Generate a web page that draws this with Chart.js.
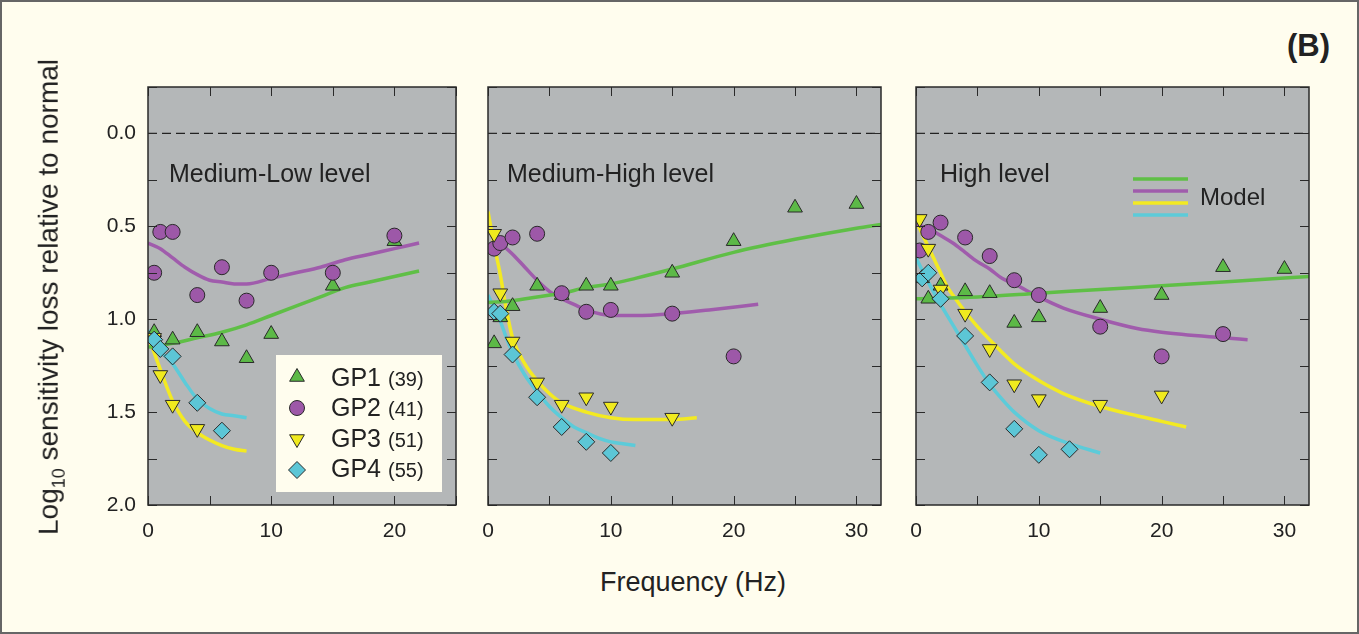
<!DOCTYPE html>
<html lang="en">
<head>
  <meta charset="UTF-8">
  <title>Sensitivity loss by frequency</title>
  <script src="https://cdn.jsdelivr.net/npm/chart.js"></script>
  <style>
    body { margin: 0; background: #fffdee; font-family: "Liberation Sans", Arial, sans-serif; color: #222; }
    #frame { position: absolute; left: 0; top: 0; width: 1359px; height: 634px; box-sizing: border-box; border: 2px solid #666; }
    .panel { position: absolute; top: 80px; height: 470px; }
    .txt { position: absolute; white-space: nowrap; line-height: 1; }
    .title { font-size: 25px; top: 161px; }
    .lg { font-size: 25px; left: 331px; }
    .lg small { font-size: 20px; }
  </style>
</head>
<body>
  <div id="frame"></div>

  <div class="panel" style="left:60px;width:400px"><canvas id="lowChart"></canvas></div>
  <div class="panel" style="left:470px;width:420px"><canvas id="midChart"></canvas></div>
  <div class="panel" style="left:898px;width:421px"><canvas id="highChart"></canvas></div>

  <div class="txt title" style="left:169px">Medium-Low level</div>
  <div class="txt title" style="left:507px">Medium-High level</div>
  <div class="txt title" style="left:940px">High level</div>

  <div class="txt lg" style="top:365px">GP1 <small>(39)</small></div>
  <div class="txt lg" style="top:395px">GP2 <small>(41)</small></div>
  <div class="txt lg" style="top:426px">GP3 <small>(51)</small></div>
  <div class="txt lg" style="top:456px">GP4 <small>(55)</small></div>

  <div class="txt" style="left:1200px;top:185px;font-size:24px">Model</div>
  <div class="txt" style="left:1287px;top:30px;font-size:31px;font-weight:bold">(B)</div>
  <div class="txt" style="left:693px;top:569px;font-size:27px;transform:translateX(-50%)">Frequency (Hz)</div>
  <div class="txt" style="left:51px;top:297px;font-size:28px;transform:translate(-50%,-50%) rotate(-90deg)">Log<sub style="font-size:18px">10</sub> sensitivity loss relative to normal</div>

  <script>
    // measured points, [frequency Hz, log10 loss]
    const mlGp1 = [[0.5,1.07],[2,1.11],[4,1.07],[6,1.12],[8,1.21],[10,1.08],[15,0.82],[20,0.58]];
    const mlGp2 = [[0.5,0.75],[1,0.53],[2,0.53],[4,0.87],[6,0.72],[8,0.90],[10,0.75],[15,0.75],[20,0.55]];
    const mlGp3 = [[0.5,1.10],[1,1.30],[2,1.46],[4,1.59]];
    const mlGp4 = [[0.5,1.11],[1,1.16],[2,1.20],[4,1.45],[6,1.60]];

    const mhGp1 = [[0.5,1.13],[1,0.99],[2,0.93],[4,0.82],[6,0.87],[8,0.82],[10,0.82],[15,0.75],[20,0.58],[25,0.40],[30,0.38]];
    const mhGp2 = [[0.5,0.62],[1,0.59],[2,0.56],[4,0.54],[6,0.86],[8,0.96],[10,0.95],[15,0.97],[20,1.20]];
    const mhGp3 = [[0.5,0.54],[1,0.86],[2,1.12],[4,1.34],[6,1.46],[8,1.42],[10,1.47],[15,1.53]];
    const mhGp4 = [[0.5,0.96],[1,0.97],[2,1.19],[4,1.42],[6,1.58],[8,1.66],[10,1.72]];

    const hiGp1 = [[0.5,0.78],[1,0.89],[2,0.82],[4,0.85],[6,0.86],[8,1.02],[10,0.99],[15,0.94],[20,0.87],[25,0.72],[30,0.73]];
    const hiGp2 = [[0.3,0.63],[1,0.53],[2,0.48],[4,0.56],[6,0.66],[8,0.79],[10,0.87],[15,1.04],[20,1.20],[25,1.08]];
    const hiGp3 = [[0.3,0.46],[1,0.62],[2,0.84],[4,0.97],[6,1.16],[8,1.35],[10,1.43],[15,1.46],[20,1.41]];
    const hiGp4 = [[0.5,0.78],[1,0.75],[2,0.89],[4,1.09],[6,1.34],[8,1.59],[10,1.73],[12.5,1.70]];

    // model curves
    const mlFit1 = [[0,1.15],[2,1.13],[4,1.10],[6,1.07],[8,1.03],[10,0.98],[12,0.93],[14,0.88],[16,0.83],[18,0.80],[20,0.77],[22,0.74]];
    const mlFit2 = [[0,0.59],[1,0.62],[2,0.67],[3,0.72],[4,0.76],[5,0.79],[6,0.80],[7,0.81],[8,0.81],[10,0.78],[12,0.75],[14,0.72],[16,0.68],[18,0.65],[20,0.62],[22,0.59]];
    const mlFit3 = [[0,1.09],[0.5,1.18],[1,1.27],[1.5,1.36],[2,1.44],[3,1.55],[4,1.61],[5,1.65],[6,1.68],[7,1.70],[8,1.71]];
    const mlFit4 = [[0,1.06],[0.5,1.12],[1,1.17],[2,1.24],[3,1.34],[4,1.43],[5,1.48],[6,1.51],[7,1.52],[8,1.53]];

    const mhFit1 = [[0,0.91],[2,0.90],[4,0.88],[6,0.86],[8,0.83],[10,0.81],[12,0.78],[15,0.73],[20,0.64],[25,0.57],[30,0.51],[32,0.49]];
    const mhFit2 = [[1,0.59],[2,0.65],[3,0.72],[4,0.79],[5,0.85],[6,0.89],[7,0.92],[8,0.95],[10,0.98],[12,0.98],[15,0.97],[18,0.95],[22,0.92]];
    const mhFit3 = [[0,0.42],[0.5,0.60],[1,0.76],[1.5,0.95],[2,1.10],[3,1.24],[4,1.33],[5,1.40],[6,1.45],[8,1.50],[10,1.53],[12,1.54],[15,1.54],[17,1.53]];
    const mhFit4 = [[0,0.87],[0.5,0.94],[1,1.01],[1.5,1.10],[2,1.18],[3,1.30],[4,1.39],[5,1.47],[6,1.53],[7,1.58],[8,1.61],[9,1.64],[10,1.66],[11,1.67],[12,1.68]];

    const hiFit1 = [[0,0.89],[5,0.88],[10,0.86],[15,0.84],[20,0.82],[25,0.80],[32,0.77]];
    const hiFit2 = [[0,0.49],[1,0.51],[2,0.55],[3,0.59],[4,0.64],[5,0.69],[6,0.73],[7,0.78],[8,0.81],[10,0.88],[12,0.94],[15,1.00],[18,1.05],[20,1.07],[25,1.10],[27,1.11]];
    const hiFit3 = [[0,0.47],[1,0.61],[2,0.75],[2.5,0.82],[3,0.87],[4,0.96],[5,1.04],[6,1.11],[8,1.24],[10,1.33],[12,1.40],[15,1.47],[18,1.52],[20,1.55],[22,1.58]];
    const hiFit4 = [[0,0.67],[1,0.80],[2,0.92],[3,1.03],[4,1.14],[5,1.25],[6,1.35],[7,1.43],[8,1.50],[10,1.60],[12.5,1.67],[15,1.72]];

    const normalLevel = 0;

    const markColors = ['#5cb947', '#9d58a8', '#f0ea1e', '#5cc6d6'];
    const lineColors = ['#5fbf46', '#a05cac', '#f3ea22', '#5ccbd9'];
    const markStyles = [
      { pointStyle: 'triangle', radius: 8.5, rotation: 0 },
      { pointStyle: 'circle', radius: 7.5, rotation: 0 },
      { pointStyle: 'triangle', radius: 8.5, rotation: 180 },
      { pointStyle: 'rectRot', radius: 8.5, rotation: 0 }
    ];

    const xy = arr => arr.map(p => ({ x: p[0], y: p[1] }));

    // grey plot area, box frame and inward ticks on all four sides
    const panelFrame = {
      id: 'panelFrame',
      beforeDatasetsDraw(chart) {
        const { ctx, chartArea: a } = chart;
        ctx.save();
        ctx.fillStyle = '#b4b7b8';
        ctx.fillRect(a.left, a.top, a.width, a.height);
        ctx.restore();
      },
      afterDatasetsDraw(chart) {
        const { ctx, chartArea: a, scales } = chart;
        ctx.save();
        ctx.strokeStyle = '#2a2a2a';
        ctx.lineWidth = 1;
        ctx.beginPath();
        scales.x.ticks.forEach(t => {
          const px = Math.round(scales.x.getPixelForValue(t.value)) + 0.5;
          ctx.moveTo(px, a.top); ctx.lineTo(px, a.top + 9);
          ctx.moveTo(px, a.bottom); ctx.lineTo(px, a.bottom - 9);
        });
        scales.y.ticks.forEach(t => {
          const py = Math.round(scales.y.getPixelForValue(t.value)) + 0.5;
          ctx.moveTo(a.left, py); ctx.lineTo(a.left + 9, py);
          ctx.moveTo(a.right, py); ctx.lineTo(a.right - 9, py);
        });
        ctx.stroke();
        ctx.lineWidth = 1.5;
        ctx.strokeRect(a.left, a.top, a.width, a.height);
        ctx.restore();
      }
    };

    // symbol key (box + markers), text is html
    const groupKey = {
      id: 'groupKey',
      afterDatasetsDraw(chart) {
        const { ctx, chartArea: a } = chart;
        ctx.save();
        ctx.fillStyle = '#fffdee';
        ctx.fillRect(a.left + 128, a.top + 268, 166, 137);
        const rows = [290, 321, 352, 383];
        rows.forEach((dy, i) => {
          ctx.fillStyle = markColors[i];
          ctx.strokeStyle = '#2a2a2a';
          ctx.lineWidth = 1;
          Chart.helpers.drawPoint(ctx, { ...markStyles[i], borderWidth: 1 }, a.left + 149, a.top + dy);
        });
        ctx.restore();
      }
    };

    // model line key in the high level panel
    const modelKey = {
      id: 'modelKey',
      afterDatasetsDraw(chart) {
        const { ctx, chartArea: a } = chart;
        ctx.save();
        ctx.lineWidth = 3.5;
        [92, 104, 116, 128].forEach((dy, i) => {
          ctx.strokeStyle = lineColors[i];
          ctx.beginPath();
          ctx.moveTo(a.left + 217, a.top + dy);
          ctx.lineTo(a.left + 272, a.top + dy);
          ctx.stroke();
        });
        ctx.restore();
      }
    };

    function makePanel(id, xMax, groups, fits, showY, yWidth, padRight, extra) {
      const datasets = [];
      datasets.push({
        data: [{ x: 0, y: normalLevel }, { x: xMax, y: normalLevel }],
        showLine: true, pointRadius: 0, borderColor: '#222', borderWidth: 1.2,
        borderDash: [9, 5], order: 20
      });
      fits.forEach((f, i) => datasets.push({
        data: xy(f), showLine: true, pointRadius: 0, borderColor: lineColors[i],
        borderWidth: 3.5, cubicInterpolationMode: 'monotone', order: 10 + i
      }));
      groups.forEach((g, i) => datasets.push({
        data: xy(g), showLine: false,
        pointStyle: markStyles[i].pointStyle, pointRadius: markStyles[i].radius,
        pointRotation: markStyles[i].rotation, pointBackgroundColor: markColors[i],
        pointBorderColor: '#2a2a2a', pointBorderWidth: 1, order: 4 - i
      }));

      return new Chart(document.getElementById(id), {
        type: 'scatter',
        data: { datasets },
        options: {
          responsive: true,
          maintainAspectRatio: false,
          animation: false,
          devicePixelRatio: 1,
          layout: { autoPadding: false, padding: { top: 7, right: padRight, left: 0, bottom: 0 } },
          plugins: { legend: { display: false }, tooltip: { enabled: false } },
          scales: {
            x: {
              type: 'linear', min: 0, max: xMax,
              grid: { display: false, drawTicks: false },
              border: { display: false },
              afterFit: s => { s.height = 45; s.paddingLeft = 0; s.paddingRight = 0; },
              ticks: {
                stepSize: 5, includeBounds: false, autoSkip: false, padding: 14,
                color: '#222', font: { family: 'Liberation Sans', size: 21 },
                callback: v => (v % 10 === 0 ? String(v) : '')
              }
            },
            y: {
              type: 'linear', reverse: true, min: -0.25, max: 2.0,
              grid: { display: false, drawTicks: false },
              border: { display: false },
              afterFit: s => { s.width = yWidth; s.paddingTop = 0; s.paddingBottom = 0; },
              ticks: {
                display: showY, stepSize: 0.25, includeBounds: false, autoSkip: false, padding: 12,
                color: '#222', font: { family: 'Liberation Sans', size: 21 },
                callback: v => (v >= 0 && Math.abs(v * 2 - Math.round(v * 2)) < 1e-6 ? v.toFixed(1) : '')
              }
            }
          }
        },
        plugins: [panelFrame].concat(extra)
      });
    }

    makePanel('lowChart', 25, [mlGp1, mlGp2, mlGp3, mlGp4], [mlFit1, mlFit2, mlFit3, mlFit4], true, 88, 4, [groupKey]);
    makePanel('midChart', 32, [mhGp1, mhGp2, mhGp3, mhGp4], [mhFit1, mhFit2, mhFit3, mhFit4], false, 18, 9, []);
    makePanel('highChart', 32, [hiGp1, hiGp2, hiGp3, hiGp4], [hiFit1, hiFit2, hiFit3, hiFit4], false, 18, 10, [modelKey]);
  </script>
</body>
</html>
